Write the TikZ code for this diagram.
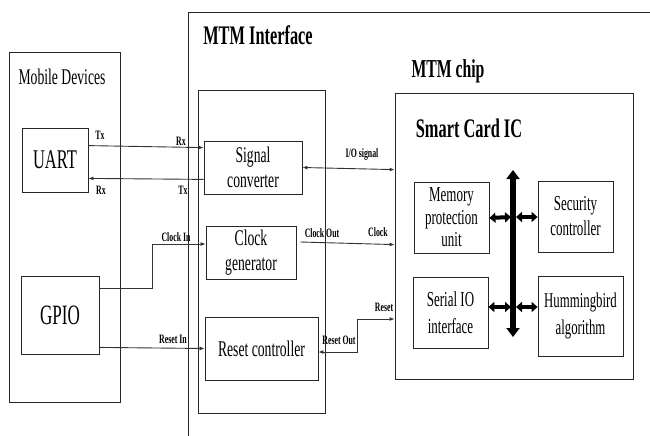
\documentclass[tikz,border=0pt]{standalone}
\usepackage{fontspec}
\setmainfont{Liberation Serif}[FakeStretch=0.61]
\usetikzlibrary{arrows.meta}
\tikzset{
  frame/.style={draw=black!85, line width=0.8pt},
  blk/.style={draw=black!85, line width=0.8pt, inner sep=0pt, align=center,
    font=\fontsize{22.4}{25}\selectfont},
  conn/.style={draw=black!80, line width=0.9pt, -{Latex[length=5pt,width=4pt]}},
  dconn/.style={draw=black!80, line width=0.9pt, {Latex[length=5pt,width=4pt]}-{Latex[length=5pt,width=4pt]}},
  lbl/.style={font=\bfseries\fontsize{12.8}{13}\selectfont, inner sep=0pt},
  title/.style={font=\bfseries\fontsize{26.8}{30}\selectfont, inner sep=0pt},
  vbus/.style={line width=6pt, {Triangle[length=9pt,width=13pt]}-{Triangle[length=9pt,width=13pt]}},
  hbus/.style={line width=4pt, {Triangle[length=6pt,width=10pt]}-{Triangle[length=6pt,width=10pt]}},
}
\begin{document}
\begin{tikzpicture}[x=1pt,y=-1pt]
\useasboundingbox (0,0) rectangle (650,436);
% frames
\draw[frame] (9,52) rectangle (120,402);
\draw[frame] (650,12) -- (188,12) -- (188,436);
\draw[frame] (198,90) rectangle (325,413);
\node[frame, minimum width=238pt, minimum height=286pt, inner sep=0pt] (smart) at (514,236) {};
% titles
\node[inner sep=0pt, font=\fontsize{22.4}{25}\selectfont] (tmob) at (62,77) {Mobile Devices};
\node[title] (tmtm) at (258,35) {MTM Interface};
\node[title, font=\bfseries\fontsize{25.8}{30}\selectfont] (tchip) at (448,71) {MTM chip};
\node[title] (tsc) at (469,128) {Smart Card IC};
% blocks
\node[blk, minimum width=66pt, minimum height=64pt, font=\fontsize{27}{30}\selectfont] (uart) at (55,160) {UART};
\node[blk, minimum width=78pt, minimum height=78pt, font=\fontsize{28}{30}\selectfont] (gpio) at (60,315) {GPIO};
\node[blk, minimum width=98pt, minimum height=53pt] (sig) at (253,167.5) {Signal\\converter};
\node[blk, minimum width=90pt, minimum height=53pt] (clk) at (251,252.5) {Clock\\generator};
\node[blk, minimum width=113pt, minimum height=63pt] (rst) at (261.5,348.5) {Reset controller};
\node[blk, minimum width=75pt, minimum height=71pt, font=\fontsize{21.3}{22.5}\selectfont] (mem) at (451.5,217.5) {Memory\\protection\\unit};
\node[blk, minimum width=75pt, minimum height=71pt, font=\fontsize{21.3}{25}\selectfont] (sec) at (575.5,216.5) {Security\\controller};
\node[blk, minimum width=75pt, minimum height=71pt, font=\fontsize{21.3}{27}\selectfont] (sio) at (450.5,312.5) {Serial IO\\interface};
\node[blk, minimum width=85pt, minimum height=80pt, font=\fontsize{21}{27}\selectfont] (hum) at (580.5,316) {Hummingbird\\algorithm};
% UART <-> signal converter
\draw[conn] ([yshift=-18pt]uart.north east) -- ([yshift=-7pt]sig.north west);
\draw[conn] ([yshift=15pt]sig.south west) -- ([yshift=14pt]uart.south east);
\node[lbl] (ltx1) at (100,135) {Tx};
\node[lbl] (lrx1) at (181,141) {Rx};
\node[lbl] (lrx2) at (101,190) {Rx};
\node[lbl] (ltx2) at (183,190) {Tx};
% GPIO -> clock generator
\coordinate (ci) at (152,244);
\draw[conn] ([yshift=-13pt]gpio.north east) -| (ci) -- (clk.west |- ci);
\node[lbl] (lci) at (176,237) {Clock In};
% GPIO -> reset controller
\draw[conn] ([yshift=7pt]gpio.south east) -- (rst.west);
\node[lbl] (lri) at (173,339) {Reset In};
% signal converter <-> smart card
\draw[dconn] (sig.east) -- ([yshift=-77pt]smart.north west);
\node[lbl] (lio) at (362,154) {I/O signal};
% clock out
\draw[conn] ([xshift=4pt,yshift=10.5pt]clk.east) -- ([yshift=-152pt]smart.north west);
\node[lbl] (lco) at (322,233) {Clock Out};
\node[lbl] (lcl) at (378,232) {Clock};
% reset
\coordinate (ro) at (357,319);
\draw[dconn] ([yshift=-3.5pt]rst.east) -| (ro) -- (smart.west |- ro);
\node[lbl] (lrs) at (384,307) {Reset};
\node[lbl] (lro) at (339,340) {Reset Out};
% bus
\coordinate (bt) at (513,170);
\coordinate (bb) at (513,337);
\draw[vbus] (bt) -- (bb);
\draw[hbus] ([yshift=-0.5pt]mem.east) -- (511,217);
\draw[hbus] (516,217) -- ([yshift=-0.5pt]sec.west);
\draw[hbus] ([yshift=5.5pt]sio.east) -- (511,307);
\draw[hbus] (516,307) -- ([yshift=9pt]hum.west);
\end{tikzpicture}
\end{document}
